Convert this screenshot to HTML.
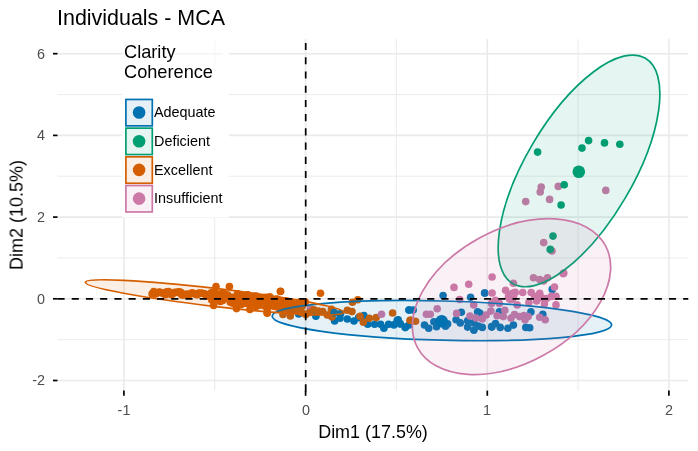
<!DOCTYPE html>
<html><head><meta charset="utf-8"><title>Individuals - MCA</title>
<style>
html,body{margin:0;padding:0;background:#fff;}
body{width:698px;height:451px;position:relative;overflow:hidden;font-family:"Liberation Sans",sans-serif;}
.t{position:absolute;white-space:nowrap;line-height:1;will-change:transform;opacity:0.999;font-family:"Liberation Sans",sans-serif;}
</style></head><body>
<svg width="698" height="451" viewBox="0 0 698 451" style="position:absolute;left:0;top:0">
<rect width="698" height="451" fill="#fff"/>
<line x1="214.8" x2="214.8" y1="39.0" y2="390.6" stroke="#E9E9E9" stroke-width="0.9"/>
<line x1="396.4" x2="396.4" y1="39.0" y2="390.6" stroke="#E9E9E9" stroke-width="0.9"/>
<line x1="578.1" x2="578.1" y1="39.0" y2="390.6" stroke="#E9E9E9" stroke-width="0.9"/>
<line y1="339.7" y2="339.7" x1="57.5" x2="688.3" stroke="#E9E9E9" stroke-width="0.9"/>
<line y1="257.9" y2="257.9" x1="57.5" x2="688.3" stroke="#E9E9E9" stroke-width="0.9"/>
<line y1="176.2" y2="176.2" x1="57.5" x2="688.3" stroke="#E9E9E9" stroke-width="0.9"/>
<line y1="94.6" y2="94.6" x1="57.5" x2="688.3" stroke="#E9E9E9" stroke-width="0.9"/>
<line x1="123.9" x2="123.9" y1="39.0" y2="390.6" stroke="#EAEAEA" stroke-width="1.6"/>
<line x1="305.6" x2="305.6" y1="39.0" y2="390.6" stroke="#EAEAEA" stroke-width="1.6"/>
<line x1="487.3" x2="487.3" y1="39.0" y2="390.6" stroke="#EAEAEA" stroke-width="1.6"/>
<line x1="668.9" x2="668.9" y1="39.0" y2="390.6" stroke="#EAEAEA" stroke-width="1.6"/>
<line y1="380.5" y2="380.5" x1="57.5" x2="688.3" stroke="#EAEAEA" stroke-width="1.6"/>
<line y1="298.8" y2="298.8" x1="57.5" x2="688.3" stroke="#EAEAEA" stroke-width="1.6"/>
<line y1="217.1" y2="217.1" x1="57.5" x2="688.3" stroke="#EAEAEA" stroke-width="1.6"/>
<line y1="135.4" y2="135.4" x1="57.5" x2="688.3" stroke="#EAEAEA" stroke-width="1.6"/>
<line y1="53.7" y2="53.7" x1="57.5" x2="688.3" stroke="#EAEAEA" stroke-width="1.6"/>
<circle cx="443.1" cy="295.6" r="3.8" fill="#0072B2"/>
<circle cx="470.6" cy="297.2" r="3.8" fill="#0072B2"/>
<circle cx="484.6" cy="293.0" r="3.8" fill="#0072B2"/>
<circle cx="409.3" cy="310.0" r="3.8" fill="#0072B2"/>
<circle cx="413.2" cy="310.0" r="3.8" fill="#0072B2"/>
<circle cx="461.3" cy="312.2" r="3.8" fill="#0072B2"/>
<circle cx="477.6" cy="311.9" r="3.8" fill="#0072B2"/>
<circle cx="484.7" cy="293.0" r="3.8" fill="#0072B2"/>
<circle cx="552.2" cy="289.4" r="3.8" fill="#0072B2"/>
<circle cx="530.9" cy="311.9" r="3.8" fill="#0072B2"/>
<circle cx="542.8" cy="314.2" r="3.8" fill="#0072B2"/>
<circle cx="499.4" cy="311.9" r="3.8" fill="#0072B2"/>
<circle cx="482.3" cy="327.4" r="3.8" fill="#0072B2"/>
<circle cx="491.6" cy="326.6" r="3.8" fill="#0072B2"/>
<circle cx="495.5" cy="323.5" r="3.8" fill="#0072B2"/>
<circle cx="500.2" cy="327.4" r="3.8" fill="#0072B2"/>
<circle cx="507.9" cy="328.2" r="3.8" fill="#0072B2"/>
<circle cx="513.4" cy="325.1" r="3.8" fill="#0072B2"/>
<circle cx="525.8" cy="327.4" r="3.8" fill="#0072B2"/>
<circle cx="529.7" cy="327.7" r="3.8" fill="#0072B2"/>
<circle cx="480.0" cy="313.4" r="3.8" fill="#0072B2"/>
<circle cx="334.2" cy="313.0" r="3.8" fill="#0072B2"/>
<circle cx="340.6" cy="313.6" r="3.8" fill="#0072B2"/>
<circle cx="334.6" cy="320.9" r="3.8" fill="#0072B2"/>
<circle cx="340.0" cy="318.3" r="3.8" fill="#0072B2"/>
<circle cx="347.3" cy="319.0" r="3.8" fill="#0072B2"/>
<circle cx="354.0" cy="321.0" r="3.8" fill="#0072B2"/>
<circle cx="358.6" cy="317.6" r="3.8" fill="#0072B2"/>
<circle cx="363.9" cy="315.6" r="3.8" fill="#0072B2"/>
<circle cx="367.7" cy="324.3" r="3.8" fill="#0072B2"/>
<circle cx="374.6" cy="324.3" r="3.8" fill="#0072B2"/>
<circle cx="380.6" cy="324.3" r="3.8" fill="#0072B2"/>
<circle cx="383.9" cy="328.3" r="3.8" fill="#0072B2"/>
<circle cx="388.6" cy="324.3" r="3.8" fill="#0072B2"/>
<circle cx="393.9" cy="324.9" r="3.8" fill="#0072B2"/>
<circle cx="397.2" cy="320.3" r="3.8" fill="#0072B2"/>
<circle cx="399.9" cy="323.6" r="3.8" fill="#0072B2"/>
<circle cx="405.2" cy="327.6" r="3.8" fill="#0072B2"/>
<circle cx="409.2" cy="324.9" r="3.8" fill="#0072B2"/>
<circle cx="408.9" cy="310.0" r="3.8" fill="#0072B2"/>
<circle cx="298.7" cy="314.0" r="3.8" fill="#0072B2"/>
<circle cx="315.9" cy="316.2" r="3.8" fill="#0072B2"/>
<circle cx="398.2" cy="319.7" r="3.8" fill="#0072B2"/>
<circle cx="405.5" cy="327.1" r="3.8" fill="#0072B2"/>
<circle cx="400.3" cy="323.9" r="3.8" fill="#0072B2"/>
<circle cx="424.5" cy="325.0" r="3.8" fill="#0072B2"/>
<circle cx="428.7" cy="328.2" r="3.8" fill="#0072B2"/>
<circle cx="433.9" cy="321.8" r="3.8" fill="#0072B2"/>
<circle cx="447.6" cy="323.9" r="3.8" fill="#0072B2"/>
<circle cx="456.1" cy="319.7" r="3.8" fill="#0072B2"/>
<circle cx="460.3" cy="322.9" r="3.8" fill="#0072B2"/>
<circle cx="467.6" cy="320.8" r="3.8" fill="#0072B2"/>
<circle cx="467.6" cy="327.1" r="3.8" fill="#0072B2"/>
<circle cx="473.9" cy="322.9" r="3.8" fill="#0072B2"/>
<circle cx="473.9" cy="330.3" r="3.8" fill="#0072B2"/>
<circle cx="478.2" cy="326.1" r="3.8" fill="#0072B2"/>
<circle cx="491.8" cy="327.1" r="3.8" fill="#0072B2"/>
<circle cx="445.5" cy="326.3" r="3.8" fill="#0072B2"/>
<circle cx="436.5" cy="326.8" r="3.8" fill="#0072B2"/>
<circle cx="310.5" cy="308.7" r="3.8" fill="#CC79A7"/>
<circle cx="280.4" cy="291.5" r="3.8" fill="#D55E00"/>
<circle cx="320.5" cy="293.3" r="3.8" fill="#D55E00"/>
<circle cx="357.8" cy="299.7" r="3.8" fill="#D55E00"/>
<circle cx="352.4" cy="302.2" r="3.8" fill="#D55E00"/>
<circle cx="269.7" cy="296.9" r="3.8" fill="#D55E00"/>
<circle cx="347.3" cy="310.3" r="3.8" fill="#D55E00"/>
<circle cx="352.0" cy="311.6" r="3.8" fill="#D55E00"/>
<circle cx="322.7" cy="311.6" r="3.8" fill="#D55E00"/>
<circle cx="327.3" cy="315.0" r="3.8" fill="#D55E00"/>
<circle cx="332.0" cy="317.0" r="3.8" fill="#D55E00"/>
<circle cx="360.0" cy="316.3" r="3.8" fill="#D55E00"/>
<circle cx="363.3" cy="322.3" r="3.8" fill="#D55E00"/>
<circle cx="369.3" cy="318.3" r="3.8" fill="#D55E00"/>
<circle cx="376.2" cy="317.6" r="3.8" fill="#D55E00"/>
<circle cx="392.6" cy="313.0" r="3.8" fill="#D55E00"/>
<circle cx="410.0" cy="320.3" r="3.8" fill="#D55E00"/>
<circle cx="410.9" cy="320.4" r="3.8" fill="#D55E00"/>
<circle cx="415.5" cy="321.2" r="3.8" fill="#D55E00"/>
<circle cx="216.0" cy="286.5" r="3.8" fill="#D55E00"/>
<circle cx="229.4" cy="286.5" r="3.8" fill="#D55E00"/>
<circle cx="280.6" cy="291.3" r="3.8" fill="#D55E00"/>
<circle cx="213.6" cy="305.5" r="3.8" fill="#D55E00"/>
<circle cx="236.5" cy="308.6" r="3.8" fill="#D55E00"/>
<circle cx="267.2" cy="313.3" r="3.8" fill="#D55E00"/>
<circle cx="249.9" cy="309.4" r="3.8" fill="#D55E00"/>
<circle cx="152.1" cy="293.9" r="3.8" fill="#D55E00"/>
<circle cx="153.8" cy="291.5" r="3.8" fill="#D55E00"/>
<circle cx="154.8" cy="293.9" r="3.8" fill="#D55E00"/>
<circle cx="156.0" cy="293.8" r="3.8" fill="#D55E00"/>
<circle cx="158.3" cy="292.6" r="3.8" fill="#D55E00"/>
<circle cx="159.3" cy="292.0" r="3.8" fill="#D55E00"/>
<circle cx="160.8" cy="292.6" r="3.8" fill="#D55E00"/>
<circle cx="162.5" cy="293.1" r="3.8" fill="#D55E00"/>
<circle cx="164.5" cy="294.0" r="3.8" fill="#D55E00"/>
<circle cx="165.6" cy="294.8" r="3.8" fill="#D55E00"/>
<circle cx="166.7" cy="291.8" r="3.8" fill="#D55E00"/>
<circle cx="168.6" cy="291.5" r="3.8" fill="#D55E00"/>
<circle cx="169.5" cy="293.2" r="3.8" fill="#D55E00"/>
<circle cx="171.5" cy="294.7" r="3.8" fill="#D55E00"/>
<circle cx="173.1" cy="293.4" r="3.8" fill="#D55E00"/>
<circle cx="174.5" cy="292.5" r="3.8" fill="#D55E00"/>
<circle cx="175.5" cy="292.3" r="3.8" fill="#D55E00"/>
<circle cx="177.7" cy="292.4" r="3.8" fill="#D55E00"/>
<circle cx="178.9" cy="291.8" r="3.8" fill="#D55E00"/>
<circle cx="180.8" cy="292.4" r="3.8" fill="#D55E00"/>
<circle cx="181.8" cy="295.0" r="3.8" fill="#D55E00"/>
<circle cx="183.5" cy="295.0" r="3.8" fill="#D55E00"/>
<circle cx="185.1" cy="294.7" r="3.8" fill="#D55E00"/>
<circle cx="186.1" cy="294.0" r="3.8" fill="#D55E00"/>
<circle cx="188.0" cy="295.2" r="3.8" fill="#D55E00"/>
<circle cx="189.4" cy="294.3" r="3.8" fill="#D55E00"/>
<circle cx="190.6" cy="293.6" r="3.8" fill="#D55E00"/>
<circle cx="192.3" cy="292.8" r="3.8" fill="#D55E00"/>
<circle cx="194.3" cy="293.7" r="3.8" fill="#D55E00"/>
<circle cx="196.0" cy="294.5" r="3.8" fill="#D55E00"/>
<circle cx="197.1" cy="294.8" r="3.8" fill="#D55E00"/>
<circle cx="198.7" cy="293.1" r="3.8" fill="#D55E00"/>
<circle cx="199.9" cy="293.5" r="3.8" fill="#D55E00"/>
<circle cx="201.4" cy="293.0" r="3.8" fill="#D55E00"/>
<circle cx="203.5" cy="293.5" r="3.8" fill="#D55E00"/>
<circle cx="204.7" cy="293.9" r="3.8" fill="#D55E00"/>
<circle cx="206.4" cy="295.2" r="3.8" fill="#D55E00"/>
<circle cx="207.1" cy="295.9" r="3.8" fill="#D55E00"/>
<circle cx="209.4" cy="296.2" r="3.8" fill="#D55E00"/>
<circle cx="210.6" cy="293.5" r="3.8" fill="#D55E00"/>
<circle cx="211.7" cy="296.4" r="3.8" fill="#D55E00"/>
<circle cx="213.6" cy="293.8" r="3.8" fill="#D55E00"/>
<circle cx="210.4" cy="297.2" r="3.8" fill="#D55E00"/>
<circle cx="210.8" cy="294.2" r="3.8" fill="#D55E00"/>
<circle cx="211.4" cy="292.7" r="3.8" fill="#D55E00"/>
<circle cx="211.8" cy="299.9" r="3.8" fill="#D55E00"/>
<circle cx="213.0" cy="296.3" r="3.8" fill="#D55E00"/>
<circle cx="213.6" cy="298.6" r="3.8" fill="#D55E00"/>
<circle cx="214.0" cy="294.3" r="3.8" fill="#D55E00"/>
<circle cx="214.8" cy="291.6" r="3.8" fill="#D55E00"/>
<circle cx="216.5" cy="297.7" r="3.8" fill="#D55E00"/>
<circle cx="216.7" cy="296.3" r="3.8" fill="#D55E00"/>
<circle cx="217.9" cy="294.4" r="3.8" fill="#D55E00"/>
<circle cx="218.3" cy="298.3" r="3.8" fill="#D55E00"/>
<circle cx="218.9" cy="296.5" r="3.8" fill="#D55E00"/>
<circle cx="220.0" cy="301.0" r="3.8" fill="#D55E00"/>
<circle cx="220.2" cy="301.4" r="3.8" fill="#D55E00"/>
<circle cx="220.8" cy="299.5" r="3.8" fill="#D55E00"/>
<circle cx="222.3" cy="292.7" r="3.8" fill="#D55E00"/>
<circle cx="222.7" cy="300.4" r="3.8" fill="#D55E00"/>
<circle cx="223.0" cy="298.4" r="3.8" fill="#D55E00"/>
<circle cx="224.5" cy="297.2" r="3.8" fill="#D55E00"/>
<circle cx="225.2" cy="294.1" r="3.8" fill="#D55E00"/>
<circle cx="225.4" cy="295.7" r="3.8" fill="#D55E00"/>
<circle cx="226.2" cy="295.6" r="3.8" fill="#D55E00"/>
<circle cx="227.7" cy="298.3" r="3.8" fill="#D55E00"/>
<circle cx="227.8" cy="295.0" r="3.8" fill="#D55E00"/>
<circle cx="229.2" cy="297.0" r="3.8" fill="#D55E00"/>
<circle cx="230.0" cy="297.9" r="3.8" fill="#D55E00"/>
<circle cx="230.3" cy="302.3" r="3.8" fill="#D55E00"/>
<circle cx="231.2" cy="298.8" r="3.8" fill="#D55E00"/>
<circle cx="231.7" cy="302.3" r="3.8" fill="#D55E00"/>
<circle cx="232.4" cy="302.9" r="3.8" fill="#D55E00"/>
<circle cx="232.8" cy="297.4" r="3.8" fill="#D55E00"/>
<circle cx="234.0" cy="303.4" r="3.8" fill="#D55E00"/>
<circle cx="234.5" cy="301.9" r="3.8" fill="#D55E00"/>
<circle cx="235.7" cy="301.0" r="3.8" fill="#D55E00"/>
<circle cx="236.4" cy="303.9" r="3.8" fill="#D55E00"/>
<circle cx="236.8" cy="297.6" r="3.8" fill="#D55E00"/>
<circle cx="237.5" cy="293.8" r="3.8" fill="#D55E00"/>
<circle cx="238.2" cy="303.6" r="3.8" fill="#D55E00"/>
<circle cx="239.6" cy="294.7" r="3.8" fill="#D55E00"/>
<circle cx="240.1" cy="298.9" r="3.8" fill="#D55E00"/>
<circle cx="240.8" cy="301.0" r="3.8" fill="#D55E00"/>
<circle cx="241.3" cy="304.5" r="3.8" fill="#D55E00"/>
<circle cx="242.2" cy="300.9" r="3.8" fill="#D55E00"/>
<circle cx="243.1" cy="296.0" r="3.8" fill="#D55E00"/>
<circle cx="243.3" cy="298.6" r="3.8" fill="#D55E00"/>
<circle cx="244.8" cy="303.3" r="3.8" fill="#D55E00"/>
<circle cx="245.5" cy="295.5" r="3.8" fill="#D55E00"/>
<circle cx="246.4" cy="303.3" r="3.8" fill="#D55E00"/>
<circle cx="247.1" cy="300.3" r="3.8" fill="#D55E00"/>
<circle cx="247.9" cy="295.1" r="3.8" fill="#D55E00"/>
<circle cx="247.8" cy="294.9" r="3.8" fill="#D55E00"/>
<circle cx="248.8" cy="297.5" r="3.8" fill="#D55E00"/>
<circle cx="249.4" cy="301.2" r="3.8" fill="#D55E00"/>
<circle cx="250.0" cy="301.5" r="3.8" fill="#D55E00"/>
<circle cx="250.9" cy="302.6" r="3.8" fill="#D55E00"/>
<circle cx="251.5" cy="298.6" r="3.8" fill="#D55E00"/>
<circle cx="253.2" cy="301.3" r="3.8" fill="#D55E00"/>
<circle cx="253.8" cy="302.7" r="3.8" fill="#D55E00"/>
<circle cx="254.4" cy="297.6" r="3.8" fill="#D55E00"/>
<circle cx="255.1" cy="296.0" r="3.8" fill="#D55E00"/>
<circle cx="256.1" cy="306.4" r="3.8" fill="#D55E00"/>
<circle cx="256.9" cy="296.3" r="3.8" fill="#D55E00"/>
<circle cx="257.1" cy="299.4" r="3.8" fill="#D55E00"/>
<circle cx="257.6" cy="303.0" r="3.8" fill="#D55E00"/>
<circle cx="259.0" cy="299.5" r="3.8" fill="#D55E00"/>
<circle cx="259.9" cy="305.1" r="3.8" fill="#D55E00"/>
<circle cx="259.9" cy="304.8" r="3.8" fill="#D55E00"/>
<circle cx="261.4" cy="298.5" r="3.8" fill="#D55E00"/>
<circle cx="261.8" cy="303.6" r="3.8" fill="#D55E00"/>
<circle cx="262.6" cy="297.6" r="3.8" fill="#D55E00"/>
<circle cx="263.4" cy="303.6" r="3.8" fill="#D55E00"/>
<circle cx="264.3" cy="305.6" r="3.8" fill="#D55E00"/>
<circle cx="264.6" cy="304.8" r="3.8" fill="#D55E00"/>
<circle cx="265.9" cy="306.8" r="3.8" fill="#D55E00"/>
<circle cx="265.9" cy="297.2" r="3.8" fill="#D55E00"/>
<circle cx="267.2" cy="299.4" r="3.8" fill="#D55E00"/>
<circle cx="267.8" cy="307.7" r="3.8" fill="#D55E00"/>
<circle cx="268.4" cy="300.0" r="3.8" fill="#D55E00"/>
<circle cx="269.2" cy="304.6" r="3.8" fill="#D55E00"/>
<circle cx="269.6" cy="301.6" r="3.8" fill="#D55E00"/>
<circle cx="270.4" cy="304.8" r="3.8" fill="#D55E00"/>
<circle cx="271.8" cy="301.7" r="3.8" fill="#D55E00"/>
<circle cx="272.1" cy="303.6" r="3.8" fill="#D55E00"/>
<circle cx="272.7" cy="300.4" r="3.8" fill="#D55E00"/>
<circle cx="273.6" cy="302.9" r="3.8" fill="#D55E00"/>
<circle cx="274.1" cy="306.3" r="3.8" fill="#D55E00"/>
<circle cx="275.3" cy="301.3" r="3.8" fill="#D55E00"/>
<circle cx="275.6" cy="306.5" r="3.8" fill="#D55E00"/>
<circle cx="276.4" cy="299.6" r="3.8" fill="#D55E00"/>
<circle cx="277.1" cy="299.1" r="3.8" fill="#D55E00"/>
<circle cx="278.7" cy="301.3" r="3.8" fill="#D55E00"/>
<circle cx="278.8" cy="307.7" r="3.8" fill="#D55E00"/>
<circle cx="279.9" cy="300.5" r="3.8" fill="#D55E00"/>
<circle cx="280.4" cy="308.4" r="3.8" fill="#D55E00"/>
<circle cx="281.1" cy="306.6" r="3.8" fill="#D55E00"/>
<circle cx="281.6" cy="306.8" r="3.8" fill="#D55E00"/>
<circle cx="283.0" cy="308.0" r="3.8" fill="#D55E00"/>
<circle cx="283.7" cy="303.0" r="3.8" fill="#D55E00"/>
<circle cx="283.8" cy="304.7" r="3.8" fill="#D55E00"/>
<circle cx="285.3" cy="301.1" r="3.8" fill="#D55E00"/>
<circle cx="285.5" cy="305.1" r="3.8" fill="#D55E00"/>
<circle cx="286.7" cy="309.2" r="3.8" fill="#D55E00"/>
<circle cx="286.9" cy="301.3" r="3.8" fill="#D55E00"/>
<circle cx="288.3" cy="306.6" r="3.8" fill="#D55E00"/>
<circle cx="289.0" cy="310.6" r="3.8" fill="#D55E00"/>
<circle cx="289.9" cy="309.0" r="3.8" fill="#D55E00"/>
<circle cx="290.5" cy="304.0" r="3.8" fill="#D55E00"/>
<circle cx="291.1" cy="301.8" r="3.8" fill="#D55E00"/>
<circle cx="292.0" cy="308.3" r="3.8" fill="#D55E00"/>
<circle cx="292.7" cy="304.8" r="3.8" fill="#D55E00"/>
<circle cx="293.1" cy="304.6" r="3.8" fill="#D55E00"/>
<circle cx="293.5" cy="309.5" r="3.8" fill="#D55E00"/>
<circle cx="294.8" cy="304.4" r="3.8" fill="#D55E00"/>
<circle cx="295.5" cy="308.3" r="3.8" fill="#D55E00"/>
<circle cx="296.1" cy="309.6" r="3.8" fill="#D55E00"/>
<circle cx="297.4" cy="304.7" r="3.8" fill="#D55E00"/>
<circle cx="297.4" cy="309.0" r="3.8" fill="#D55E00"/>
<circle cx="299.0" cy="302.2" r="3.8" fill="#D55E00"/>
<circle cx="299.5" cy="309.9" r="3.8" fill="#D55E00"/>
<circle cx="300.4" cy="302.1" r="3.8" fill="#D55E00"/>
<circle cx="300.3" cy="311.9" r="3.8" fill="#D55E00"/>
<circle cx="301.1" cy="302.9" r="3.8" fill="#D55E00"/>
<circle cx="302.3" cy="306.0" r="3.8" fill="#D55E00"/>
<circle cx="303.3" cy="303.2" r="3.8" fill="#D55E00"/>
<circle cx="304.2" cy="303.6" r="3.8" fill="#D55E00"/>
<circle cx="304.8" cy="302.1" r="3.8" fill="#D55E00"/>
<circle cx="305.2" cy="301.8" r="3.8" fill="#D55E00"/>
<circle cx="267.2" cy="312.4" r="3.8" fill="#D55E00"/>
<circle cx="283.0" cy="314.5" r="3.8" fill="#D55E00"/>
<circle cx="290.3" cy="316.0" r="3.8" fill="#D55E00"/>
<circle cx="313.7" cy="309.7" r="3.8" fill="#D55E00"/>
<circle cx="318.2" cy="311.1" r="3.8" fill="#D55E00"/>
<circle cx="331.5" cy="309.3" r="3.8" fill="#D55E00"/>
<circle cx="297.8" cy="311.1" r="3.8" fill="#D55E00"/>
<circle cx="302.2" cy="312.8" r="3.8" fill="#D55E00"/>
<circle cx="305.8" cy="314.6" r="3.8" fill="#D55E00"/>
<circle cx="309.5" cy="312.5" r="3.8" fill="#D55E00"/>
<circle cx="334.2" cy="312.6" r="3.8" fill="#0072B2"/>
<circle cx="541.2" cy="187.0" r="3.8" fill="#CC79A7"/>
<circle cx="540.2" cy="192.0" r="3.8" fill="#CC79A7"/>
<circle cx="558.3" cy="186.4" r="3.8" fill="#CC79A7"/>
<circle cx="549.6" cy="199.4" r="3.8" fill="#CC79A7"/>
<circle cx="525.7" cy="201.6" r="3.8" fill="#CC79A7"/>
<circle cx="605.8" cy="190.4" r="3.8" fill="#CC79A7"/>
<circle cx="543.7" cy="242.6" r="3.8" fill="#CC79A7"/>
<circle cx="552.0" cy="251.0" r="3.8" fill="#CC79A7"/>
<circle cx="563.2" cy="273.7" r="3.8" fill="#CC79A7"/>
<circle cx="454.0" cy="287.4" r="3.8" fill="#CC79A7"/>
<circle cx="468.7" cy="284.3" r="3.8" fill="#CC79A7"/>
<circle cx="437.2" cy="308.8" r="3.8" fill="#CC79A7"/>
<circle cx="426.4" cy="314.2" r="3.8" fill="#CC79A7"/>
<circle cx="430.3" cy="314.2" r="3.8" fill="#CC79A7"/>
<circle cx="459.7" cy="299.5" r="3.8" fill="#CC79A7"/>
<circle cx="473.7" cy="304.9" r="3.8" fill="#CC79A7"/>
<circle cx="456.6" cy="313.4" r="3.8" fill="#CC79A7"/>
<circle cx="492.1" cy="277.0" r="3.8" fill="#CC79A7"/>
<circle cx="492.1" cy="293.0" r="3.8" fill="#CC79A7"/>
<circle cx="505.6" cy="290.2" r="3.8" fill="#CC79A7"/>
<circle cx="513.4" cy="283.2" r="3.8" fill="#CC79A7"/>
<circle cx="512.6" cy="293.3" r="3.8" fill="#CC79A7"/>
<circle cx="509.5" cy="297.2" r="3.8" fill="#CC79A7"/>
<circle cx="522.7" cy="292.5" r="3.8" fill="#CC79A7"/>
<circle cx="531.2" cy="292.5" r="3.8" fill="#CC79A7"/>
<circle cx="539.7" cy="293.3" r="3.8" fill="#CC79A7"/>
<circle cx="533.5" cy="277.8" r="3.8" fill="#CC79A7"/>
<circle cx="539.7" cy="279.6" r="3.8" fill="#CC79A7"/>
<circle cx="543.6" cy="280.9" r="3.8" fill="#CC79A7"/>
<circle cx="547.5" cy="277.8" r="3.8" fill="#CC79A7"/>
<circle cx="563.8" cy="273.1" r="3.8" fill="#CC79A7"/>
<circle cx="554.5" cy="287.1" r="3.8" fill="#CC79A7"/>
<circle cx="551.4" cy="296.4" r="3.8" fill="#CC79A7"/>
<circle cx="556.0" cy="296.4" r="3.8" fill="#CC79A7"/>
<circle cx="556.0" cy="304.9" r="3.8" fill="#CC79A7"/>
<circle cx="495.5" cy="300.3" r="3.8" fill="#CC79A7"/>
<circle cx="499.4" cy="303.4" r="3.8" fill="#CC79A7"/>
<circle cx="491.6" cy="303.4" r="3.8" fill="#CC79A7"/>
<circle cx="517.2" cy="304.9" r="3.8" fill="#CC79A7"/>
<circle cx="528.9" cy="302.6" r="3.8" fill="#CC79A7"/>
<circle cx="536.6" cy="301.0" r="3.8" fill="#CC79A7"/>
<circle cx="544.4" cy="304.1" r="3.8" fill="#CC79A7"/>
<circle cx="504.8" cy="310.3" r="3.8" fill="#CC79A7"/>
<circle cx="490.9" cy="311.1" r="3.8" fill="#CC79A7"/>
<circle cx="486.2" cy="315.0" r="3.8" fill="#CC79A7"/>
<circle cx="482.3" cy="318.9" r="3.8" fill="#CC79A7"/>
<circle cx="497.1" cy="315.8" r="3.8" fill="#CC79A7"/>
<circle cx="503.3" cy="316.6" r="3.8" fill="#CC79A7"/>
<circle cx="511.0" cy="318.1" r="3.8" fill="#CC79A7"/>
<circle cx="519.6" cy="316.6" r="3.8" fill="#CC79A7"/>
<circle cx="525.0" cy="319.7" r="3.8" fill="#CC79A7"/>
<circle cx="528.1" cy="316.6" r="3.8" fill="#CC79A7"/>
<circle cx="539.7" cy="317.3" r="3.8" fill="#CC79A7"/>
<circle cx="545.2" cy="319.7" r="3.8" fill="#CC79A7"/>
<circle cx="381.5" cy="314.3" r="3.8" fill="#CC79A7"/>
<circle cx="476.0" cy="318.0" r="3.8" fill="#CC79A7"/>
<circle cx="470.0" cy="316.0" r="3.8" fill="#CC79A7"/>
<circle cx="534.7" cy="296.4" r="3.8" fill="#CC79A7"/>
<circle cx="541.8" cy="297.7" r="3.8" fill="#CC79A7"/>
<circle cx="515.2" cy="292.4" r="3.8" fill="#CC79A7"/>
<circle cx="524.0" cy="315.5" r="3.8" fill="#CC79A7"/>
<circle cx="514.5" cy="314.5" r="3.8" fill="#CC79A7"/>
<circle cx="546.5" cy="298.5" r="3.8" fill="#CC79A7"/>
<circle cx="537.6" cy="152.1" r="3.8" fill="#009E73"/>
<circle cx="582.0" cy="148.1" r="3.8" fill="#009E73"/>
<circle cx="588.6" cy="140.6" r="3.8" fill="#009E73"/>
<circle cx="604.5" cy="142.9" r="3.8" fill="#009E73"/>
<circle cx="619.8" cy="144.3" r="3.8" fill="#009E73"/>
<circle cx="564.2" cy="184.8" r="3.8" fill="#009E73"/>
<circle cx="561.1" cy="205.0" r="3.8" fill="#009E73"/>
<circle cx="553.0" cy="236.1" r="3.8" fill="#009E73"/>
<circle cx="550.2" cy="249.4" r="3.8" fill="#009E73"/>
<ellipse cx="0" cy="0" rx="169.8" ry="19.6" transform="translate(441.9 320.6) rotate(1.5)" fill="#0072B2" fill-opacity="0.1" stroke="#0072B2" stroke-width="1.7"/>
<ellipse cx="0" cy="0" rx="53.59" ry="130.71" transform="translate(579.02 170.9) rotate(-149.47)" fill="#009E73" fill-opacity="0.1" stroke="#009E73" stroke-width="1.7"/>
<ellipse cx="0" cy="0" rx="130.0" ry="9.0" transform="translate(214.5 297.35) rotate(6.65)" fill="#D55E00" fill-opacity="0.1" stroke="#D55E00" stroke-width="1.7"/>
<ellipse cx="0" cy="0" rx="106.91" ry="66.87" transform="translate(511.49 296.63) rotate(151.38)" fill="#CC79A7" fill-opacity="0.1" stroke="#CC79A7" stroke-width="1.7"/>
<circle cx="441.6" cy="321.2" r="6.3" fill="#0072B2"/>
<circle cx="578.8" cy="171.8" r="6.3" fill="#009E73"/>
<circle cx="215.0" cy="297.0" r="6.3" fill="#D55E00"/>
<circle cx="511.0" cy="297.0" r="6.3" fill="#CC79A7"/>
<rect x="122.4" y="65.5" width="106.4" height="152" fill="#fff"/>
<rect x="122.4" y="38" width="52.4" height="28" fill="#fff"/>
<rect x="222.8" y="38" width="6" height="28" fill="#fff"/>
<rect x="174.8" y="38" width="48" height="28" fill="#fff" fill-opacity="0.45"/>
<rect x="125.9" y="99.45" width="26.4" height="26.4" fill="#0072B2" fill-opacity="0.1" stroke="#0072B2" stroke-width="1.7"/>
<circle cx="139.1" cy="112.5" r="6.3" fill="#0072B2"/>
<rect x="125.9" y="128.15" width="26.4" height="26.4" fill="#009E73" fill-opacity="0.1" stroke="#009E73" stroke-width="1.7"/>
<circle cx="139.1" cy="141.2" r="6.3" fill="#009E73"/>
<rect x="125.9" y="156.85" width="26.4" height="26.4" fill="#D55E00" fill-opacity="0.1" stroke="#D55E00" stroke-width="1.7"/>
<circle cx="139.1" cy="169.9" r="6.3" fill="#D55E00"/>
<rect x="125.9" y="185.55" width="26.4" height="26.4" fill="#CC79A7" fill-opacity="0.1" stroke="#CC79A7" stroke-width="1.7"/>
<circle cx="139.1" cy="198.6" r="6.3" fill="#CC79A7"/>
<line x1="57.5" x2="688.3" y1="298.85" y2="298.85" stroke="#000" stroke-width="1.7" stroke-dasharray="7.11 7.11"/>
<line x1="305.7" x2="305.7" y1="391.4" y2="39.0" stroke="#000" stroke-width="1.7" stroke-dasharray="7.11 7.11"/>
<line x1="53" x2="57.5" y1="380.5" y2="380.5" stroke="#000" stroke-width="1.7"/>
<line x1="53" x2="57.5" y1="298.8" y2="298.8" stroke="#000" stroke-width="1.7"/>
<line x1="53" x2="57.5" y1="217.1" y2="217.1" stroke="#000" stroke-width="1.7"/>
<line x1="53" x2="57.5" y1="135.4" y2="135.4" stroke="#000" stroke-width="1.7"/>
<line x1="53" x2="57.5" y1="53.7" y2="53.7" stroke="#000" stroke-width="1.7"/>
<line y1="390.6" y2="395.8" x1="123.9" x2="123.9" stroke="#000" stroke-width="1.7"/>
<line y1="390.6" y2="395.8" x1="305.6" x2="305.6" stroke="#000" stroke-width="1.7"/>
<line y1="390.6" y2="395.8" x1="487.3" x2="487.3" stroke="#000" stroke-width="1.7"/>
<line y1="390.6" y2="395.8" x1="668.9" x2="668.9" stroke="#000" stroke-width="1.7"/>
</svg>
<div class="t" style="left:56.6px;top:7.84px;font-size:21.45px;color:#000;">Individuals - MCA</div>
<div class="t" style="left:373.4px;top:423.91px;font-size:17.95px;color:#000;transform:translateX(-50%);">Dim1 (17.5%)</div>
<div class="t" style="left:45.2px;top:373.31px;font-size:14.4px;color:#4D4D4D;transform:translateX(-100%);">-2</div>
<div class="t" style="left:45.2px;top:291.61px;font-size:14.4px;color:#4D4D4D;transform:translateX(-100%);">0</div>
<div class="t" style="left:45.2px;top:209.91px;font-size:14.4px;color:#4D4D4D;transform:translateX(-100%);">2</div>
<div class="t" style="left:45.2px;top:128.21px;font-size:14.4px;color:#4D4D4D;transform:translateX(-100%);">4</div>
<div class="t" style="left:45.2px;top:46.51px;font-size:14.4px;color:#4D4D4D;transform:translateX(-100%);">6</div>
<div class="t" style="left:123.93000000000004px;top:402.81px;font-size:14.4px;color:#4D4D4D;transform:translateX(-50%);">-1</div>
<div class="t" style="left:305.6px;top:402.81px;font-size:14.4px;color:#4D4D4D;transform:translateX(-50%);">0</div>
<div class="t" style="left:487.27px;top:402.81px;font-size:14.4px;color:#4D4D4D;transform:translateX(-50%);">1</div>
<div class="t" style="left:668.94px;top:402.81px;font-size:14.4px;color:#4D4D4D;transform:translateX(-50%);">2</div>
<div class="t" style="left:124.0px;top:42.59px;font-size:18.2px;color:#000;">Clarity</div>
<div class="t" style="left:124.0px;top:63.09px;font-size:18.2px;color:#000;">Coherence</div>
<div class="t" style="left:154.25px;top:105.31px;font-size:14.4px;color:#000;">Adequate</div>
<div class="t" style="left:154.25px;top:134.01px;font-size:14.4px;color:#000;">Deficient</div>
<div class="t" style="left:154.25px;top:162.71px;font-size:14.4px;color:#000;">Excellent</div>
<div class="t" style="left:154.25px;top:191.41px;font-size:14.4px;color:#000;">Insufficient</div>
<div class="t" style="left:23.1px;top:214.9px;font-size:18px;transform:translate(-50%,-50%) rotate(-90deg) translateY(-6.4px);transform-origin:center">Dim2 (10.5%)</div>
</body></html>
